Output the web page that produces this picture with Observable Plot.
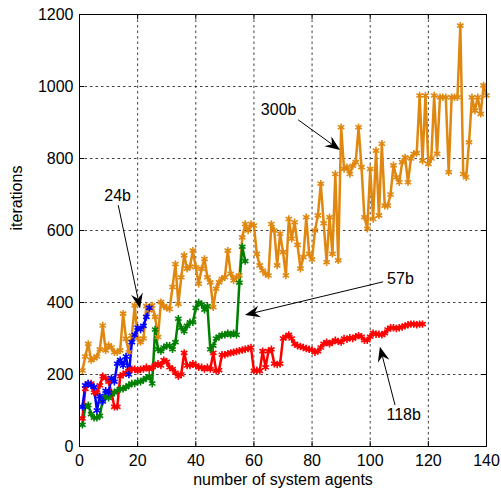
<!DOCTYPE html>
<html><head><meta charset="utf-8">
<script src="https://cdn.jsdelivr.net/npm/d3@7"></script>
<script src="https://cdn.jsdelivr.net/npm/@observablehq/plot@0.6"></script>
<style>body{margin:0;background:#fff;font-family:"Liberation Sans",Arial,sans-serif}</style>
</head><body><div id="chart"></div>
<script>
const xTicks = [0, 20, 40, 60, 80, 100, 120, 140];
const yTicks = [0, 200, 400, 600, 800, 1000, 1200];
const xLabel = "number of system agents";
const yLabel = "iterations";

const series24b = [110,170,175,170,165,100,140,125,155,150,190,180,230,240,225,250,200,290,310,330,325,335,360,385];
const series57b = [60,110,115,90,80,80,85,130,140,135,145,150,155,160,160,165,170,175,175,180,180,185,190,195,175,325,270,265,275,280,280,270,290,355,330,320,335,345,345,385,400,395,380,390,270,280,300,305,310,310,315,310,315,310,455,555,515];
const series118b = [78,160,175,175,150,150,170,195,190,180,150,110,110,195,200,205,210,215,215,210,215,215,220,215,220,225,230,225,240,235,220,215,205,195,200,260,225,225,230,225,220,220,215,220,215,260,210,212,255,255,258,260,262,264,266,268,270,272,275,210,212,210,265,220,265,270,230,228,230,300,305,310,300,285,280,278,275,272,270,268,262,265,275,285,290,285,290,295,292,290,300,298,302,300,305,308,305,295,295,305,315,312,312,310,315,325,330,330,328,330,332,335,338,340,340,338,340,340];
const series300b = [211,250,285,240,245,250,270,336,267,281,275,262,262,267,369,299,262,308,392,300,290,300,390,378,392,360,304,401,390,385,382,443,507,396,470,531,494,500,544,498,452,494,521,470,456,387,438,456,466,470,544,480,461,470,475,581,618,600,618,614,535,503,489,480,475,618,600,503,591,540,475,632,577,623,560,494,526,637,535,520,600,642,730,620,512,637,535,757,517,887,771,776,757,780,790,887,776,637,605,771,632,822,642,841,669,669,700,781,748,734,790,803,734,800,813,815,975,794,975,785,800,975,813,970,970,970,762,970,970,970,1169,757,748,845,970,933,970,924,1003,975];

const seriesNames = ["300b", "118b", "57b", "24b"];
const seriesValues = [series300b, series118b, series57b, series24b];
const seriesColors = ["#E0870F", "#FF0000", "#008000", "#0000FF"];

const annotLabels = ["24b", "57b", "118b", "300b"];
const annotTextX = [13.1, 110.4, 111.5, 68.5];
const annotTextY = [697, 467, 89, 936];
const arrowFromX = [13.5, 104.6, 108.7, 75.4];
const arrowFromY = [669, 456, 114, 906];
const arrowToX = [21, 57.1, 103.5, 89.8];
const arrowToY = [382, 364, 276, 822];

const rows = [];
seriesNames.forEach((name, s) => seriesValues[s].forEach((v, i) => rows.push({series: name, x: i + 1, y: v})));

const annots = annotLabels.map((label, i) => ({label, tx: annotTextX[i], ty: annotTextY[i], x1: arrowFromX[i], y1: arrowFromY[i], x2: arrowToX[i], y2: arrowToY[i]}));

function arrowsMark(index, scales) {
  const g = d3.create("svg:g");
  for (const a of annots) {
    const x1 = scales.x(a.x1), y1 = scales.y(a.y1), x2 = scales.x(a.x2), y2 = scales.y(a.y2);
    const ang = Math.atan2(y2 - y1, x2 - x1);
    const L = 15, W = 6, N = 10;
    const ux = Math.cos(ang), uy = Math.sin(ang), px = -uy, py = ux;
    g.append("line").attr("x1", x1).attr("y1", y1).attr("x2", x2 - ux * N).attr("y2", y2 - uy * N)
      .attr("stroke", "#000").attr("stroke-width", 1);
    const pts = [
      [x2, y2],
      [x2 - ux * L + px * W, y2 - uy * L + py * W],
      [x2 - ux * N, y2 - uy * N],
      [x2 - ux * L - px * W, y2 - uy * L - py * W]
    ];
    g.append("polygon").attr("points", pts.map(p => p.join(",")).join(" ")).attr("fill", "#000");
  }
  return g.node();
}

const colorScale = {domain: seriesNames, range: seriesColors};

const chart = Plot.plot({
  width: 501,
  height: 497,
  marginLeft: 79,
  marginRight: 15,
  marginTop: 14,
  marginBottom: 51,
  style: {fontFamily: "Liberation Sans, Arial, sans-serif", fontSize: "16px", background: "#fff", color: "#000"},
  x: {domain: [0, 140]},
  y: {domain: [0, 1200]},
  color: colorScale,
  marks: [
    Plot.gridX(xTicks.slice(1, -1), {stroke: "#000", strokeOpacity: 0.75, strokeDasharray: "2.5,3"}),
    Plot.gridY(yTicks.slice(1, -1), {stroke: "#000", strokeOpacity: 0.75, strokeDasharray: "2.5,3"}),
    Plot.tickX(xTicks, {x: d => d, insetTop: 427, stroke: "#000"}),
    Plot.tickX(xTicks, {x: d => d, insetBottom: 427, stroke: "#000"}),
    Plot.tickY(yTicks, {y: d => d, insetRight: 402, stroke: "#000"}),
    Plot.tickY(yTicks, {y: d => d, insetLeft: 402, stroke: "#000"}),
    Plot.axisX(xTicks, {tickSize: 0, tickPadding: 8, fontSize: 16, label: null, tickFormat: d => String(d)}),
    Plot.axisY(yTicks, {tickSize: 0, tickPadding: 6, fontSize: 16, label: null, tickFormat: d => String(d)}),
    Plot.line(rows, {x: "x", y: "y", z: "series", stroke: "series", strokeWidth: 2.5}),
    Plot.dot(rows, {x: "x", y: "y", stroke: "series", symbol: "asterisk", r: 3.5, strokeWidth: 1.6}),
    Plot.frame({stroke: "#000"}),
    arrowsMark,
    Plot.text(annots, {x: "tx", y: "ty", text: "label", fontSize: 16, fill: "#000"}),
    Plot.text([xLabel], {frameAnchor: "bottom", dy: 38, fontSize: 16, fill: "#000"}),
    Plot.text([yLabel], {frameAnchor: "left", dx: -63, rotate: -90, fontSize: 16, fill: "#000"})
  ]
});
document.getElementById("chart").appendChild(chart);
</script>
</body></html>
